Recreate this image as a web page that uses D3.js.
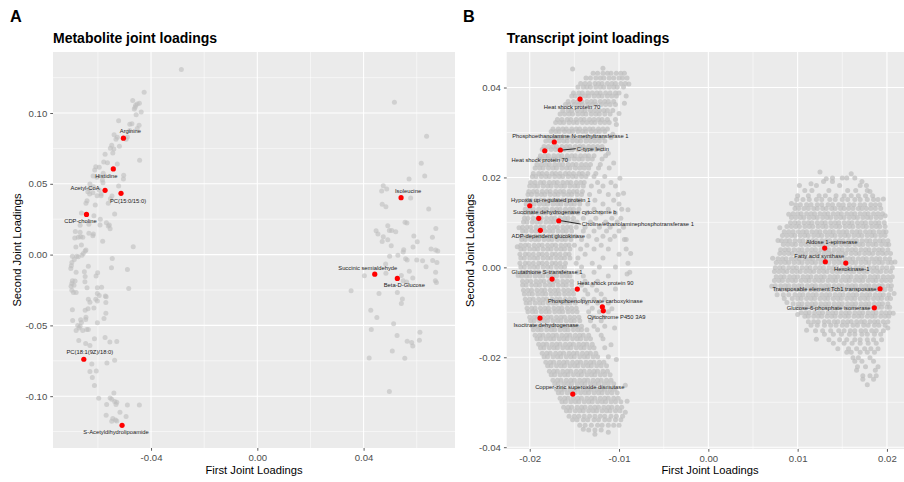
<!DOCTYPE html>
<html>
<head>
<meta charset="utf-8">
<style>
body { margin: 0; background: #fff; }
svg { display: block; font-family: "Liberation Sans", Arial, Helvetica, sans-serif; }
.panel-bg { fill: #ebebeb; }
.grid-major { stroke: #fff; stroke-width: 1.07; }
.grid-minor { stroke: #fff; stroke-width: 0.53; }
.axis .tick text { fill: #4d4d4d; font-size: 9.6px; font-family: "Liberation Sans", Arial, sans-serif; }
.axis .tick line { stroke: #333; stroke-width: 0.8; }
.axis .domain { display: none; }
.grey-pt { fill: #bebebe; }
.red-pt { fill: #ff0000; }
.lbl { font-size: 5.8px; fill: #1a1a1a; }
.seg { stroke: #000; stroke-width: 0.8; }
.title { font-size: 14px; font-weight: bold; fill: #000; }
.tag { font-size: 16.3px; font-weight: bold; fill: #000; }
.axis-title { font-size: 11.2px; fill: #000; }
</style>
</head>
<body>
<svg width="904" height="482"></svg>
<script src="https://d3js.org/d3.v7.min.js"></script>
<script>
// ---------- panel A: metabolites ----------
const metaboliteCloud = [
  [-.0286,.1307],[-.0426,.1147],[-.0444,.1069],[-.0452,.1064],[-.0458,.1055],[-.0460,.1041],[-.0463,.1029],[-.0469,.1088],
  [-.0437,.1008],[-.0456,.0987],[-.0522,.0946],[-.0480,.0921],[-.0472,.0925],[-.0445,.0914],[-.0452,.0890],[-.0480,.0876],
  [-.0539,.0847],[-.0527,.0829],[-.0532,.0815],[-.0489,.0831],[-.0494,.0815],[-.0519,.0765],[-.0548,.0772],[-.0553,.0751],
  [-.0540,.0746],[-.0573,.0709],[-.0544,.0718],[-.0527,.0640],[-.0443,.0666],[-.0578,.0654],[-.0564,.0649],[-.0608,.0621],
  [-.0595,.0617],[-.0612,.0598],[-.0580,.0574],[-.0618,.0555],[-.0604,.0546],[-.0583,.0527],[-.0581,.0508],[-.0503,.0560],
  [-.0504,.0534],[-.0522,.0484],[-.0630,.0499],[-.0617,.0479],[-.0633,.0463],[-.0638,.0444],[-.0619,.0437],[-.0631,.0428],
  [-.0595,.0456],[-.0588,.0428],[-.0588,.0416],[-.0603,.0416],[-.0547,.0414],[-.0553,.0395],[-.0561,.0362],[-.0641,.0380],
  [-.0645,.0362],[-.0610,.0350],[-.0537,.0286],[-.0662,.0293],[-.0615,.0274],[-.0591,.0249],[-.0568,.0225],[-.0557,.0209],
  [-.0561,.0202],[-.0554,.0182],[-.0592,.0209],[-.0634,.0214],[-.0667,.0207],[-.0685,.0164],[-.0667,.0157],[-.0687,.0117],
  [-.0674,.0122],[-.0665,.0126],[-.0657,.0122],[-.0634,.0150],[-.0619,.0133],[-.0617,.0145],[-.0582,.0095],[-.0662,.0067],
  [-.0683,.0053],[-.0467,.0055],[-.0648,.0025],[-.0655,.0008],[-.0696,-.0011],[-.0680,-.0011],[-.0546,-.0027],[-.0645,.0032],
  [-.0660,-.0004],[-.0674,-.0016],[-.0689,-.0034],[-.0698,-.0055],[-.0700,-.0079],[-.0702,-.0098],[-.0549,-.0093],[-.0489,-.0105],
  [-.0636,-.0083],[-.0682,-.0124],[-.0651,-.0122],[-.0648,-.0154],[-.0649,-.0192],[-.0601,-.0129],[-.0607,-.0152],[-.0696,-.0185],
  [-.0698,-.0204],[-.0686,-.0187],[-.0701,-.0223],[-.0690,-.0216],[-.0698,-.0251],[-.0692,-.0267],[-.0682,-.0267],[-.0641,-.0235],
  [-.0602,-.0235],[-.0586,-.0230],[-.0484,-.0239],[-.0602,-.0274],[-.0595,-.0289],[-.0572,-.0293],[-.0569,-.0298],[-.0570,-.0338],
  [-.0636,-.0315],[-.0630,-.0336],[-.0608,-.0315],[-.0602,-.0327],[-.0648,-.0393],[-.0637,-.0383],[-.0615,-.0378],[-.0696,-.0390],
  [-.0570,-.0414],[-.0577,-.0451],[-.0645,-.0442],[-.0646,-.0458],[-.0695,-.0465],[-.0665,-.0461],[-.0662,-.0479],[-.0667,-.0506],
  [-.0671,-.0518],[-.0676,-.0501],[-.0682,-.0536],[-.0657,-.0536],[-.0642,-.0529],[-.0636,-.0529],[-.0602,-.0482],[-.0672,-.0607],
  [-.0613,-.0595],[-.0573,-.0586],[-.0555,-.0617],[-.0529,-.0614],[-.0646,-.0628],[-.0630,-.0642],[-.0537,-.0746],[-.0566,-.0765],
  [-.0623,-.0772],[-.0606,-.0822],[-.0630,-.0826],[-.0621,-.0868],[-.0613,-.0925],[-.0540,-.0977],[-.0597,-.1015],[-.0554,-.1013],
  [-.0548,-.1022],[-.0537,-.1038],[-.0529,-.1043],[-.0532,-.1059],[-.0567,-.1059],[-.0489,-.1062],[-.0444,-.1062],[-.0517,-.1114],
  [-.0569,-.1135],[-.0494,-.1144],[-.0544,-.1158],[-.0534,-.1168],[-.0548,-.1177],[-.0529,-.1175],
  [.0516,.1076],[.0637,.0836],[.0617,.0645],[.0630,.0555],[.0571,.0534],[.0474,.0487],[.0487,.0463],[.0468,.0449],
  [.0577,.0400],[.0470,.0355],[.0484,.0338],[.0645,.0322],[.0491,.0204],[.0497,.0171],[.0506,.0171],[.0521,.0161],
  [.0556,.0228],[.0563,.0223],[.0672,.0185],[.0447,.0168],[.0454,.0145],[.0474,.0126],[.0491,.0105],[.0470,.0093],
  [.0589,.0131],[.0602,.0091],[.0659,.0122],[.0504,.0062],[.0586,.0053],[.0551,.0034],[.0549,.0018],[.0654,.0039],
  [.0671,.0032],[.0679,.0025],[.0498,-.0011],[.0529,-.0004],[.0558,-.0030],[.0564,-.0039],[.0600,-.0039],[.0622,-.0044],
  [.0660,-.0041],[.0676,-.0055],[.0483,-.0067],[.0635,-.0086],[.0572,-.0117],[.0671,-.0124],[.0484,-.0131],[.0403,-.0150],
  [.0542,-.0147],[.0585,-.0166],[.0549,-.0185],[.0562,-.0194],[.0670,-.0185],[.0674,-.0197],[.0353,-.0256],[.0458,-.0274],
  [.0527,-.0267],[.0546,-.0313],[.0542,-.0345],[.0427,-.0393],[.0450,-.0444],[.0513,-.0489],[.0429,-.0529],[.0526,-.0571],
  [.0612,-.0548],[.0610,-.0605],[.0564,-.0612],[.0581,-.0621],[.0585,-.0645],[.0508,-.0680],[.0421,-.0730],[.0555,-.0732],
  [.0497,-.0967]
];
const metaboliteNames = ["Arginine", "Histidine", "Acetyl-CoA", "PC(15:0/15:0)", "CDP-choline",
  "PC(18:1(9Z)/18:0)", "S-Acetyldihydrolipoamide", "Isoleucine", "Succinic semialdehyde", "Beta-D-Glucose"];
const metaboliteX = [-0.0504, -0.0542, -0.0573, -0.0513, -0.0643, -0.0653, -0.0509, 0.0541, 0.0442, 0.0527];
const metaboliteY = [0.0822, 0.0605, 0.0454, 0.0433, 0.0284, -0.0739, -0.1206, 0.0402, -0.0138, -0.0168];
// label placement, pixels from the point: [dx, dy, anchor, leader]
const metaboliteLabelPos = [[7,-7,"middle",0],[-7,7,"middle",0],[-20,-2,"middle",0],[7,8,"middle",0],[-6,7,"middle",0],
  [6,-7,"middle",0],[-6,7,"middle",0],[7,-7,"middle",0],[-7,-6,"middle",0],[7,7,"middle",0]];

const metXTicks = [-0.04, 0, 0.04];
const metXMinor = [-0.06, -0.02, 0.02, 0.06];
const metYTicks = [-0.10, -0.05, 0, 0.05, 0.10];
const metYMinor = [-0.125, -0.075, -0.025, 0.025, 0.075, 0.125];

// ---------- panel B: transcripts ----------
// grey cloud, read row by row: [second loading, [first loadings...]]
const transcriptRows = [
  [.0432,[-.0129,-.0124,-.0118,-.0113,-.0109,-.0103,-.0098,-.0094]],
  [.0421,[-.0137,-.0132,-.0126,-.0121,-.0117,-.0111,-.0106,-.0100,-.0096,-.0091]],
  [.0409,[-.0143,-.0138,-.0133,-.0127,-.0123,-.0119,-.0113,-.0108,-.0104,-.0098,-.0093]],
  [.0401,[-.0146,-.0140,-.0136,-.0132,-.0126,-.0121,-.0117,-.0111,-.0106,-.0102,-.0095]],
  [.0388,[-.0151,-.0145,-.0141,-.0135,-.0130,-.0125,-.0121,-.0115,-.0110,-.0104,-.0100]],
  [.0381,[-.0153,-.0149,-.0143,-.0138,-.0134,-.0128,-.0123,-.0119,-.0113,-.0108,-.0103,-.0092]],
  [.0369,[-.0157,-.0151,-.0146,-.0142,-.0136,-.0131,-.0127,-.0121,-.0116,-.0112,-.0106]],
  [.0362,[-.0160,-.0156,-.0150,-.0145,-.0141,-.0135,-.0130,-.0126,-.0120,-.0115,-.0110,-.0104]],
  [.0349,[-.0163,-.0157,-.0153,-.0147,-.0142,-.0138,-.0132,-.0127,-.0122,-.0117,-.0113,-.0107]],
  [.0341,[-.0166,-.0161,-.0156,-.0152,-.0146,-.0141,-.0137,-.0131,-.0126,-.0122,-.0116,-.0110]],
  [.0329,[-.0169,-.0164,-.0158,-.0154,-.0148,-.0143,-.0139,-.0133,-.0128,-.0123,-.0119,-.0113,-.0104]],
  [.0322,[-.0171,-.0166,-.0162,-.0156,-.0151,-.0147,-.0141,-.0136,-.0131,-.0127,-.0121,-.0116,-.0111]],
  [.0308,[-.0174,-.0168,-.0163,-.0159,-.0153,-.0148,-.0144,-.0138,-.0133,-.0129,-.0123,-.0118,-.0113]],
  [.0302,[-.0176,-.0171,-.0167,-.0161,-.0156,-.0152,-.0146,-.0141,-.0137,-.0131,-.0126,-.0122,-.0116]],
  [.0289,[-.0179,-.0173,-.0168,-.0164,-.0158,-.0153,-.0149,-.0143,-.0138,-.0134,-.0128,-.0123,-.0118,-.0109]],
  [.0281,[-.0182,-.0177,-.0173,-.0167,-.0162,-.0158,-.0152,-.0147,-.0143,-.0137,-.0132,-.0127,-.0122,-.0116]],
  [.0269,[-.0184,-.0179,-.0174,-.0170,-.0164,-.0159,-.0155,-.0149,-.0144,-.0140,-.0134,-.0129,-.0124,-.0119]],
  [.0262,[-.0186,-.0182,-.0176,-.0171,-.0167,-.0161,-.0156,-.0152,-.0146,-.0141,-.0137,-.0131,-.0126,-.0120]],
  [.0248,[-.0188,-.0183,-.0179,-.0173,-.0168,-.0164,-.0158,-.0153,-.0149,-.0143,-.0138,-.0134,-.0128,-.0115]],
  [.0241,[-.0190,-.0186,-.0180,-.0175,-.0171,-.0165,-.0160,-.0156,-.0150,-.0145,-.0141,-.0135,-.0130,-.0119]],
  [.0229,[-.0192,-.0187,-.0182,-.0178,-.0172,-.0167,-.0163,-.0157,-.0152,-.0148,-.0142,-.0137,-.0132,-.0121]],
  [.0221,[-.0194,-.0189,-.0185,-.0179,-.0174,-.0170,-.0164,-.0159,-.0155,-.0149,-.0144,-.0139,-.0134,-.0123,-.0111]],
  [.0209,[-.0196,-.0190,-.0186,-.0181,-.0175,-.0171,-.0166,-.0160,-.0156,-.0151,-.0145,-.0141,-.0135,-.0126]],
  [.0202,[-.0197,-.0193,-.0187,-.0182,-.0178,-.0172,-.0167,-.0163,-.0157,-.0152,-.0148,-.0142,-.0137,-.0128,-.0116]],
  [.0189,[-.0199,-.0194,-.0188,-.0184,-.0178,-.0173,-.0169,-.0163,-.0158,-.0154,-.0148,-.0143,-.0139,-.0124,-.0109]],
  [.0181,[-.0200,-.0195,-.0191,-.0185,-.0180,-.0176,-.0170,-.0165,-.0161,-.0155,-.0150,-.0146,-.0140,-.0131,-.0118,-.0104]],
  [.0169,[-.0201,-.0196,-.0192,-.0186,-.0181,-.0177,-.0171,-.0166,-.0162,-.0156,-.0151,-.0147,-.0141,-.0122]],
  [.0162,[-.0202,-.0198,-.0192,-.0187,-.0183,-.0177,-.0172,-.0168,-.0162,-.0157,-.0153,-.0147,-.0142,-.0133,-.0112,-.0101]],
  [.0149,[-.0203,-.0199,-.0193,-.0188,-.0184,-.0178,-.0173,-.0169,-.0163,-.0158,-.0154,-.0148,-.0144,-.0127,-.0106]],
  [.0141,[-.0204,-.0199,-.0195,-.0189,-.0184,-.0180,-.0174,-.0169,-.0165,-.0159,-.0154,-.0150,-.0144,-.0135,-.0118,-.0100]],
  [.0129,[-.0205,-.0200,-.0196,-.0190,-.0185,-.0181,-.0175,-.0170,-.0166,-.0160,-.0155,-.0151,-.0145,-.0128,-.0112,-.0097]],
  [.0121,[-.0206,-.0201,-.0197,-.0191,-.0186,-.0182,-.0176,-.0171,-.0167,-.0161,-.0156,-.0152,-.0146,-.0136,-.0120,-.0104]],
  [.0109,[-.0206,-.0202,-.0196,-.0191,-.0187,-.0181,-.0176,-.0172,-.0166,-.0161,-.0157,-.0151,-.0140,-.0126,-.0108,-.0098]],
  [.0101,[-.0207,-.0203,-.0197,-.0192,-.0188,-.0182,-.0177,-.0173,-.0167,-.0162,-.0158,-.0152,-.0147,-.0132,-.0115,-.0102]],
  [.0089,[-.0208,-.0203,-.0199,-.0193,-.0188,-.0184,-.0178,-.0173,-.0169,-.0163,-.0158,-.0154,-.0148,-.0138,-.0122,-.0110,-.0095]],
  [.0081,[-.0208,-.0204,-.0198,-.0193,-.0189,-.0183,-.0178,-.0174,-.0168,-.0163,-.0159,-.0153,-.0140,-.0128,-.0114,-.0100]],
  [.0069,[-.0209,-.0204,-.0200,-.0194,-.0189,-.0185,-.0179,-.0174,-.0170,-.0164,-.0159,-.0155,-.0149,-.0134,-.0118,-.0105]],
  [.0062,[-.0209,-.0205,-.0199,-.0194,-.0190,-.0184,-.0179,-.0175,-.0169,-.0164,-.0160,-.0154,-.0142,-.0125,-.0110,-.0094]],
  [.0049,[-.0210,-.0205,-.0201,-.0195,-.0190,-.0186,-.0180,-.0175,-.0171,-.0165,-.0160,-.0156,-.0150,-.0136,-.0120]],
  [.0041,[-.0210,-.0206,-.0200,-.0195,-.0191,-.0185,-.0180,-.0176,-.0170,-.0165,-.0161,-.0155,-.0143,-.0128,-.0112,-.0092]],
  [.0029,[-.0211,-.0205,-.0201,-.0196,-.0190,-.0186,-.0181,-.0175,-.0171,-.0166,-.0160,-.0156,-.0138,-.0100]],
  [.0021,[-.0210,-.0206,-.0200,-.0195,-.0191,-.0185,-.0180,-.0176,-.0170,-.0165,-.0161,-.0155,-.0146,-.0118]],
  [.0009,[-.0211,-.0205,-.0201,-.0196,-.0190,-.0186,-.0181,-.0175,-.0171,-.0166,-.0160,-.0148,-.0130,-.0090]],
  [.0001,[-.0210,-.0206,-.0200,-.0195,-.0191,-.0185,-.0180,-.0176,-.0170,-.0165,-.0161,-.0142,-.0122,-.0104]],
  [-.0011,[-.0209,-.0205,-.0199,-.0194,-.0190,-.0184,-.0179,-.0175,-.0169,-.0164,-.0159,-.0146,-.0128,-.0088]],
  [-.0019,[-.0209,-.0204,-.0200,-.0194,-.0189,-.0185,-.0179,-.0174,-.0170,-.0164,-.0159,-.0155,-.0140,-.0112]],
  [-.0031,[-.0208,-.0203,-.0199,-.0193,-.0188,-.0184,-.0178,-.0173,-.0169,-.0163,-.0158,-.0153,-.0138,-.0124]],
  [-.0039,[-.0208,-.0204,-.0198,-.0193,-.0189,-.0183,-.0178,-.0174,-.0168,-.0163,-.0159,-.0153,-.0142,-.0130]],
  [-.0051,[-.0207,-.0202,-.0198,-.0192,-.0187,-.0183,-.0177,-.0172,-.0168,-.0162,-.0157,-.0152,-.0138,-.0125]],
  [-.0059,[-.0206,-.0201,-.0197,-.0191,-.0186,-.0182,-.0176,-.0171,-.0167,-.0161,-.0156,-.0151,-.0135,-.0120]],
  [-.0071,[-.0205,-.0200,-.0196,-.0190,-.0185,-.0181,-.0175,-.0170,-.0166,-.0160,-.0155,-.0150,-.0140,-.0128,-.0116]],
  [-.0079,[-.0204,-.0200,-.0194,-.0189,-.0185,-.0179,-.0174,-.0170,-.0164,-.0159,-.0155,-.0149,-.0136,-.0124,-.0112]],
  [-.0091,[-.0203,-.0198,-.0194,-.0188,-.0183,-.0179,-.0173,-.0168,-.0164,-.0158,-.0153,-.0148,-.0130,-.0118]],
  [-.0099,[-.0202,-.0197,-.0193,-.0187,-.0182,-.0178,-.0172,-.0167,-.0163,-.0157,-.0152,-.0147,-.0134,-.0122,-.0112]],
  [-.0111,[-.0200,-.0195,-.0191,-.0185,-.0180,-.0176,-.0170,-.0165,-.0161,-.0155,-.0150,-.0145,-.0130,-.0117]],
  [-.0119,[-.0199,-.0195,-.0189,-.0184,-.0180,-.0174,-.0169,-.0165,-.0159,-.0154,-.0150,-.0144,-.0132,-.0120]],
  [-.0131,[-.0197,-.0192,-.0188,-.0182,-.0177,-.0173,-.0167,-.0162,-.0158,-.0152,-.0147,-.0142,-.0128,-.0116]],
  [-.0139,[-.0196,-.0191,-.0187,-.0181,-.0176,-.0172,-.0166,-.0161,-.0157,-.0151,-.0146,-.0142,-.0136,-.0124]],
  [-.0151,[-.0194,-.0189,-.0185,-.0179,-.0174,-.0170,-.0164,-.0159,-.0155,-.0149,-.0144,-.0140,-.0134,-.0120]],
  [-.0159,[-.0192,-.0188,-.0182,-.0177,-.0173,-.0167,-.0162,-.0158,-.0152,-.0147,-.0143,-.0137,-.0132,-.0118]],
  [-.0171,[-.0190,-.0185,-.0181,-.0175,-.0170,-.0166,-.0160,-.0155,-.0151,-.0145,-.0140,-.0136,-.0130]],
  [-.0179,[-.0188,-.0184,-.0178,-.0173,-.0169,-.0163,-.0158,-.0154,-.0148,-.0143,-.0139,-.0133,-.0128,-.0116]],
  [-.0191,[-.0186,-.0181,-.0177,-.0171,-.0166,-.0162,-.0156,-.0151,-.0147,-.0141,-.0136,-.0132,-.0126]],
  [-.0199,[-.0184,-.0180,-.0174,-.0169,-.0165,-.0159,-.0154,-.0150,-.0144,-.0139,-.0135,-.0129,-.0124,-.0112]],
  [-.0211,[-.0182,-.0177,-.0173,-.0167,-.0162,-.0158,-.0152,-.0147,-.0143,-.0137,-.0132,-.0128,-.0122,-.0117]],
  [-.0219,[-.0180,-.0176,-.0170,-.0165,-.0161,-.0155,-.0150,-.0146,-.0140,-.0135,-.0131,-.0125,-.0120,-.0114]],
  [-.0231,[-.0178,-.0173,-.0169,-.0163,-.0158,-.0154,-.0148,-.0143,-.0139,-.0133,-.0128,-.0124,-.0118,-.0113]],
  [-.0239,[-.0176,-.0172,-.0166,-.0161,-.0157,-.0151,-.0146,-.0142,-.0136,-.0131,-.0127,-.0121,-.0116,-.0110]],
  [-.0251,[-.0174,-.0169,-.0165,-.0159,-.0154,-.0150,-.0144,-.0139,-.0135,-.0129,-.0124,-.0120,-.0114,-.0109]],
  [-.0259,[-.0172,-.0168,-.0162,-.0157,-.0153,-.0147,-.0142,-.0138,-.0132,-.0127,-.0123,-.0117,-.0112,-.0106]],
  [-.0271,[-.0170,-.0165,-.0161,-.0155,-.0150,-.0146,-.0140,-.0135,-.0131,-.0125,-.0120,-.0116,-.0110,-.0105]],
  [-.0279,[-.0168,-.0164,-.0158,-.0153,-.0149,-.0143,-.0138,-.0134,-.0128,-.0123,-.0119,-.0113,-.0108,-.0102]],
  [-.0291,[-.0166,-.0161,-.0157,-.0151,-.0146,-.0142,-.0136,-.0131,-.0127,-.0121,-.0116,-.0112,-.0106,-.0101]],
  [-.0299,[-.0164,-.0160,-.0154,-.0149,-.0145,-.0139,-.0134,-.0130,-.0124,-.0119,-.0115,-.0109,-.0104,-.0098]],
  [-.0311,[-.0162,-.0157,-.0153,-.0147,-.0142,-.0138,-.0132,-.0127,-.0123,-.0117,-.0112,-.0108,-.0102,-.0097]],
  [-.0319,[-.0159,-.0155,-.0149,-.0144,-.0140,-.0134,-.0129,-.0125,-.0119,-.0114,-.0110,-.0104,-.0099]],
  [-.0331,[-.0156,-.0150,-.0145,-.0139,-.0133,-.0127,-.0121,-.0116,-.0109,-.0103,-.0096]],
  [-.0339,[-.0152,-.0147,-.0140,-.0135,-.0128,-.0123,-.0116,-.0111,-.0104,-.0098]],
  [-.0351,[-.0144,-.0138,-.0131,-.0124,-.0119,-.0112,-.0106,-.0100]],
  [-.0362,[-.0134,-.0127,-.0120]],
  // right-hand cluster
  [.0212,[.0125]],
  [.0199,[.0139,.0150,.0155,.0164]],
  [.0191,[.0129,.0139,.0172]],
  [.0182,[.0102,.0121,.0147,.0170,.0177]],
  [.0171,[.0108,.0116,.0135,.0156,.0165,.0178]],
  [.0159,[.0100,.0112,.0124,.0131,.0143,.0152,.0160,.0168,.0176,.0184]],
  [.0151,[.0099,.0106,.0113,.0121,.0127,.0136,.0142,.0150,.0156,.0164,.0170,.0178,.0185,.0190]],
  [.0139,[.0098,.0103,.0110,.0115,.0122,.0127,.0134,.0139,.0146,.0151,.0158,.0163,.0170,.0175,.0182,.0187,.0192]],
  [.0131,[.0097,.0101,.0107,.0112,.0118,.0122,.0128,.0132,.0138,.0142,.0148,.0152,.0157,.0162,.0168,.0172,.0177,.0182,.0187,.0193]],
  [.0119,[.0095,.0100,.0104,.0110,.0115,.0119,.0125,.0130,.0134,.0140,.0145,.0149,.0155,.0160,.0164,.0170,.0175,.0179,.0185,.0190,.0195]],
  [.0111,[.0093,.0098,.0103,.0107,.0113,.0118,.0122,.0128,.0133,.0137,.0143,.0148,.0152,.0158,.0163,.0167,.0173,.0178,.0182,.0188,.0193]],
  [.0099,[.0092,.0097,.0101,.0107,.0112,.0116,.0122,.0127,.0131,.0137,.0142,.0146,.0152,.0157,.0161,.0167,.0172,.0176,.0182,.0187,.0191,.0197]],
  [.0091,[.0088,.0093,.0098,.0102,.0108,.0113,.0117,.0123,.0128,.0132,.0138,.0143,.0147,.0153,.0158,.0162,.0168,.0173,.0177,.0183,.0188,.0192,.0198]],
  [.0079,[.0085,.0090,.0095,.0101,.0106,.0110,.0116,.0121,.0125,.0131,.0136,.0140,.0146,.0151,.0155,.0161,.0166,.0170,.0176,.0181,.0185,.0191,.0196,.0199]],
  [.0071,[.0083,.0088,.0093,.0097,.0103,.0108,.0112,.0118,.0123,.0127,.0133,.0138,.0142,.0148,.0153,.0157,.0163,.0168,.0172,.0178,.0183,.0187,.0193,.0198]],
  [.0059,[.0082,.0087,.0091,.0097,.0102,.0106,.0112,.0117,.0121,.0127,.0132,.0136,.0142,.0147,.0151,.0157,.0162,.0166,.0172,.0177,.0181,.0187,.0192,.0196,.0201]],
  [.0051,[.0084,.0089,.0094,.0098,.0104,.0109,.0113,.0119,.0124,.0128,.0134,.0139,.0143,.0149,.0154,.0158,.0164,.0169,.0173,.0179,.0184,.0188,.0194,.0199,.0202]],
  [.0039,[.0081,.0086,.0090,.0096,.0101,.0105,.0111,.0116,.0120,.0126,.0131,.0135,.0141,.0146,.0150,.0156,.0161,.0165,.0171,.0176,.0180,.0186,.0191,.0195,.0201]],
  [.0031,[.0080,.0085,.0090,.0094,.0100,.0105,.0109,.0115,.0120,.0124,.0130,.0135,.0139,.0145,.0150,.0154,.0160,.0165,.0169,.0175,.0180,.0184,.0190,.0195,.0199,.0204]],
  [.0019,[.0078,.0083,.0087,.0093,.0098,.0102,.0108,.0113,.0117,.0123,.0128,.0132,.0138,.0143,.0147,.0153,.0158,.0162,.0168,.0173,.0177,.0183,.0188,.0192,.0198,.0203]],
  [.0011,[.0076,.0081,.0086,.0090,.0096,.0101,.0105,.0111,.0116,.0120,.0126,.0131,.0135,.0141,.0146,.0150,.0156,.0161,.0165,.0171,.0176,.0180,.0186,.0191,.0195,.0201,.0205]],
  [-.0001,[.0075,.0080,.0084,.0090,.0095,.0099,.0105,.0110,.0114,.0120,.0125,.0129,.0135,.0140,.0144,.0150,.0155,.0159,.0165,.0170,.0174,.0180,.0185,.0189,.0195,.0200,.0206]],
  [-.0009,[.0074,.0079,.0084,.0088,.0094,.0099,.0103,.0109,.0114,.0118,.0124,.0129,.0133,.0139,.0144,.0148,.0154,.0159,.0163,.0169,.0174,.0178,.0184,.0189,.0193,.0199,.0204]],
  [-.0021,[.0076,.0081,.0085,.0091,.0096,.0100,.0106,.0111,.0115,.0121,.0126,.0130,.0136,.0141,.0145,.0151,.0156,.0160,.0166,.0171,.0175,.0181,.0186,.0190,.0196,.0201,.0206]],
  [-.0029,[.0074,.0079,.0083,.0089,.0094,.0098,.0104,.0109,.0113,.0119,.0124,.0128,.0134,.0139,.0143,.0149,.0154,.0158,.0164,.0169,.0173,.0179,.0184,.0188,.0194,.0199,.0204]],
  [-.0041,[.0075,.0081,.0086,.0090,.0096,.0101,.0105,.0111,.0116,.0120,.0126,.0131,.0135,.0141,.0146,.0150,.0156,.0161,.0165,.0171,.0176,.0180,.0186,.0191,.0195,.0201,.0205]],
  [-.0049,[.0076,.0082,.0088,.0093,.0099,.0104,.0108,.0114,.0119,.0123,.0129,.0134,.0138,.0144,.0149,.0153,.0159,.0164,.0168,.0174,.0179,.0183,.0189,.0194,.0198,.0204]],
  [-.0061,[.0077,.0084,.0090,.0097,.0102,.0106,.0112,.0117,.0121,.0127,.0132,.0136,.0142,.0147,.0151,.0157,.0162,.0166,.0172,.0177,.0181,.0187,.0192,.0196,.0202]],
  [-.0069,[.0085,.0094,.0100,.0104,.0110,.0115,.0119,.0125,.0130,.0134,.0140,.0145,.0149,.0155,.0160,.0164,.0170,.0175,.0179,.0185,.0190,.0194,.0200,.0204]],
  [-.0081,[.0095,.0101,.0105,.0111,.0116,.0120,.0126,.0131,.0135,.0141,.0146,.0150,.0156,.0161,.0165,.0171,.0176,.0180,.0186,.0191,.0195,.0201]],
  [-.0089,[.0100,.0104,.0110,.0115,.0119,.0125,.0130,.0134,.0140,.0145,.0149,.0155,.0160,.0164,.0170,.0175,.0179,.0185,.0190,.0194,.0200,.0203]],
  [-.0101,[.0104,.0109,.0113,.0119,.0124,.0128,.0134,.0139,.0143,.0149,.0154,.0158,.0164,.0169,.0173,.0179,.0184,.0188,.0194,.0199,.0203]],
  [-.0109,[.0108,.0112,.0118,.0123,.0127,.0133,.0138,.0142,.0148,.0153,.0157,.0163,.0168,.0172,.0178,.0183,.0187,.0193,.0198,.0202]],
  [-.0121,[.0112,.0118,.0123,.0130,.0135,.0141,.0145,.0151,.0156,.0160,.0166,.0171,.0175,.0181,.0186,.0190,.0196,.0201]],
  [-.0129,[.0115,.0122,.0130,.0137,.0143,.0150,.0155,.0162,.0167,.0174,.0179,.0186,.0191,.0198]],
  [-.0141,[.0120,.0128,.0137,.0146,.0152,.0159,.0164,.0171,.0176,.0183,.0188,.0196]],
  [-.0149,[.0130,.0140,.0149,.0158,.0164,.0172,.0178,.0186,.0193]],
  [-.0161,[.0135,.0147,.0155,.0164,.0170,.0178,.0185,.0194]],
  [-.0169,[.0140,.0152,.0161,.0170,.0179,.0188]],
  [-.0181,[.0145,.0157,.0166,.0175,.0182,.0190]],
  [-.0189,[.0155,.0160,.0170,.0178,.0186]],
  [-.0201,[.0162,.0168,.0181]],
  [-.0209,[.0164,.0172,.0185]],
  [-.0221,[.0167,.0176,.0190]],
  [-.0229,[.0166,.0187]],
  [-.0241,[.0173,.0181,.0188]],
  [-.0249,[.0173,.0185]],
  [-.0261,[.0178]]
];
// scattered points off the edges of the two clouds
const transcriptOutliers = [
  [-.0089,.0408],[-.0094,.0365],[-.0100,.0342],[-.0103,.0318],[-.0107,.0296],[-.0112,.0254],[-.0106,.0232],[-.0099,.0198],
  [-.0095,.0165],[-.0090,.0128],[-.0092,.0062],[-.0087,.0031],[-.0091,-.0015],[-.0104,-.0048],[-.0108,-.0092],[-.0105,-.0135],
  [-.0109,-.0172],[-.0103,-.0205],[-.0093,-.0262],[-.0091,-.0298],[-.0093,-.0322],[-.0112,-.0367],[-.0214,.0046],[-.0213,-.0018],
  [-.0212,.0088],[-.0152,.0441],[-.0118,.0443],[-.0140,-.0360],[-.0127,-.0371],
  [.0080,.0088],[.0078,.0060],[.0072,.0020],[.0071,-.0042],[.0088,-.0078],[.0100,-.0105],[.0110,-.0140],[.0121,-.0160],
  [.0209,.0012],[.0208,-.0058],[.0207,-.0102],[.0201,-.0135],[.0198,.0115],[.0196,.0152],[.0115,.0186],[.0132,.0197],
  [.0160,.0208],[.0181,.0169],[.0093,.0142],[.0090,.0118]
];
const transcriptNames = ["Heat shock protein 70", "Phosphoethanolamine N-methyltransferase 1", "C-type lectin",
  "Heat shock protein 70", "Hypoxia up-regulated protein 1", "Succinate dehydrogenase cytochrome b",
  "Choline/ethanolaminephosphotransferase 1", "ADP-dependent glucokinase", "Glutathione S-transferase 1",
  "Heat shock protein 90", "Phosphoenolpyruvate carboxykinase", "Cytochrome P450 3A9", "Isocitrate dehydrogenase",
  "Copper-zinc superoxide dismutase", "Aldose 1-epimerase", "Fatty acid synthase", "Hexokinase-1",
  "Transposable element Tcb1 transposase", "Glucose-6-phosphate isomerase"];
const transcriptX = [-0.01437, -0.01725, -0.01657, -0.01832, -0.02000, -0.01899, -0.01675, -0.01881, -0.01750,
  -0.01467, -0.01187, -0.01176, -0.01885, -0.01518, 0.01303, 0.01310, 0.01539, 0.01923, 0.01859];
const transcriptY = [0.03744, 0.02788, 0.02610, 0.02594, 0.01370, 0.01090, 0.01037, 0.00823, -0.00260,
  -0.00483, -0.00877, -0.00966, -0.01128, -0.02819, 0.00429, 0.00125, 0.00096, -0.00476, -0.00899];
const transcriptLabelPos = [[-8,8,"middle",0],[16,-6,"middle",0],[16.4,-1.3,"start",1],[-5,9,"middle",0],
  [21,-6,"middle",0],[26,-6,"middle",0],[23,3.3,"start",1],[8,6,"middle",0],[-5,-7,"middle",0],[28,-6,"middle",0],
  [-7,-6,"middle",0],[13,6,"middle",0],[6,7,"middle",0],[7,-7,"middle",0],[7,-6,"middle",0],[-6,-6,"middle",0],
  [6,6,"middle",0],[-3.5,0,"end",0],[-3.8,0,"end",0]];

const trXTicks = [-0.02, -0.01, 0, 0.01, 0.02];
const trXMinor = [-0.015, -0.005, 0.005, 0.015];
const trYTicks = [-0.04, -0.02, 0, 0.02, 0.04];
const trYMinor = [-0.03, -0.01, 0.01, 0.03];

// ---------- drawing ----------
const svg = d3.select("svg");
const fmt = d => d.toFixed(2);

function drawPanel(opt) {
  const g = svg.append("g");
  const x = d3.scaleLinear().domain(opt.xDomain).range([opt.left, opt.right]);
  const y = d3.scaleLinear().domain(opt.yDomain).range([opt.bottom, opt.top]);

  g.append("rect").attr("class", "panel-bg")
    .attr("x", opt.left).attr("y", opt.top)
    .attr("width", opt.right - opt.left).attr("height", opt.bottom - opt.top);

  const vlines = (data, cls) => g.selectAll(null).data(data).enter().append("line")
    .attr("class", cls).attr("x1", d => x(d)).attr("x2", d => x(d))
    .attr("y1", opt.top).attr("y2", opt.bottom);
  const hlines = (data, cls) => g.selectAll(null).data(data).enter().append("line")
    .attr("class", cls).attr("y1", d => y(d)).attr("y2", d => y(d))
    .attr("x1", opt.left).attr("x2", opt.right);
  vlines(opt.xMinor, "grid-minor"); hlines(opt.yMinor, "grid-minor");
  vlines(opt.xTicks, "grid-major"); hlines(opt.yTicks, "grid-major");

  g.append("g").attr("class", "axis")
    .attr("transform", `translate(0,${opt.bottom})`)
    .call(d3.axisBottom(x).tickValues(opt.xTicks).tickFormat(fmt).tickSize(2.75).tickPadding(3.2));
  g.append("g").attr("class", "axis")
    .attr("transform", `translate(${opt.left},0)`)
    .call(d3.axisLeft(y).tickValues(opt.yTicks).tickFormat(fmt).tickSize(2.75).tickPadding(3));

  g.append("g").selectAll("circle").data(opt.cloud).enter().append("circle")
    .attr("class", "grey-pt").attr("fill-opacity", opt.greyOpacity)
    .attr("cx", d => x(d[0])).attr("cy", d => y(d[1])).attr("r", 2.5);

  const hi = opt.names.map((n, i) => ({name: n, x: opt.xs[i], y: opt.ys[i], pos: opt.labelPos[i]}));
  g.append("g").selectAll("circle").data(hi).enter().append("circle")
    .attr("class", "red-pt").attr("cx", d => x(d.x)).attr("cy", d => y(d.y)).attr("r", 2.6);

  g.append("g").selectAll("line").data(hi.filter(d => d.pos[3])).enter().append("line")
    .attr("class", "seg")
    .attr("x1", d => x(d.x) + 2.4).attr("y1", d => y(d.y))
    .attr("x2", d => x(d.x) + d.pos[0] - 1).attr("y2", d => y(d.y) + d.pos[1]);

  g.append("g").selectAll("text").data(hi).enter().append("text")
    .attr("class", "lbl")
    .attr("x", d => x(d.x) + d.pos[0]).attr("y", d => y(d.y) + d.pos[1])
    .attr("dy", "0.35em").attr("text-anchor", d => d.pos[2])
    .text(d => d.name);

  const cx = (opt.left + opt.right) / 2, cy = (opt.top + opt.bottom) / 2;
  svg.append("text").attr("class", "tag").attr("x", opt.tagX).attr("y", 21.7).text(opt.tag);
  svg.append("text").attr("class", "title").attr("x", opt.left).attr("y", 43).text(opt.title);
  svg.append("text").attr("class", "axis-title").attr("x", opt.xTitleX || cx).attr("y", 474)
    .attr("text-anchor", "middle").text("First Joint Loadings");
  svg.append("text").attr("class", "axis-title")
    .attr("transform", `translate(${opt.yTitleX},${cy}) rotate(-90)`)
    .attr("text-anchor", "middle").attr("dy", "0.35em").text("Second Joint Loadings");
}

drawPanel({
  left: 53, right: 455, top: 52, bottom: 448,
  xDomain: [-0.0769, 0.0744], yDomain: [-0.1366, 0.1431],
  xTicks: metXTicks, xMinor: metXMinor, yTicks: metYTicks, yMinor: metYMinor,
  cloud: metaboliteCloud, greyOpacity: 0.6,
  names: metaboliteNames, xs: metaboliteX, ys: metaboliteY, labelPos: metaboliteLabelPos,
  tag: "A", tagX: 10, title: "Metabolite joint loadings", yTitleX: 17
});

drawPanel({
  left: 506.7, right: 904, top: 52, bottom: 449,
  xDomain: [-0.02258, 0.02191], yDomain: [-0.0404, 0.0479],
  xTicks: trXTicks, xMinor: trXMinor, yTicks: trYTicks, yMinor: trYMinor,
  cloud: transcriptRows.flatMap(([yv, xs]) => xs.map(xv => [xv, yv])).concat(transcriptOutliers),
  greyOpacity: 0.72,
  names: transcriptNames, xs: transcriptX, ys: transcriptY, labelPos: transcriptLabelPos,
  tag: "B", tagX: 463, title: "Transcript joint loadings", yTitleX: 470, xTitleX: 710
});
</script>
</body>
</html>
